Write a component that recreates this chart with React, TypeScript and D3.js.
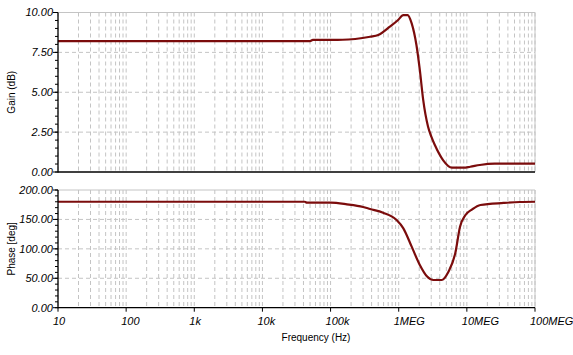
import React from "react";
import * as d3 from "d3";

const gainFreq = [10, 50000, 55000, 150000, 230000, 380000, 500000, 740000, 980000, 1170000, 1350000, 1550000, 1820000, 2040000, 2290000, 2690000, 3020000, 3390000, 4470000, 6030000, 8900000, 11200000, 15500000, 25700000, 100000000];
const gainDb = [8.21, 8.21, 8.28, 8.29, 8.34, 8.48, 8.59, 9.11, 9.53, 9.84, 9.84, 9.32, 7.96, 6.4, 4.5, 2.85, 2.2, 1.69, 0.75, 0.27, 0.27, 0.33, 0.44, 0.52, 0.52];

const phaseFreq = [10, 42000, 45000, 100000, 174000, 300000, 380000, 590000, 930000, 1170000, 1550000, 2040000, 2570000, 3240000, 4270000, 5370000, 6760000, 7940000, 9550000, 12000000, 15800000, 34700000, 60000000, 100000000];
const phaseDeg = [180, 180, 178.4, 178.4, 175.6, 171.1, 167.7, 161.4, 149, 134.9, 103.7, 72.6, 53.9, 47.1, 47.1, 61.2, 92.4, 137.6, 157.5, 167.2, 174.5, 178, 179.6, 180];

const xTickValues = [10, 100, 1000, 10000, 100000, 1000000, 10000000, 100000000];
const xTickLabels = ["10", "100", "1k", "10k", "100k", "1MEG", "10MEG", "100MEG"];
const gainTicks = [0, 2.5, 5, 7.5, 10];
const phaseTicks = [0, 50, 100, 150, 200];

const L = 58, R = 535;
const font = "Liberation Sans, Arial, sans-serif";
const lineColor = "#7b0c0c";
const gridColor = "#c4c4c4";

const x = d3.scaleLog().domain([10, 1e8]).range([L, R]);

function minorFreqs(): number[] {
  const out: number[] = [];
  for (let e = 1; e < 8; e++) for (let m = 2; m <= 9; m++) out.push(m * Math.pow(10, e));
  return out;
}

function Panel(props: {
  top: number; bottom: number; domain: [number, number]; ticks: number[]; minorStep: number;
  freq: number[]; vals: number[]; title: string; showX: boolean;
}) {
  const { top, bottom, domain, ticks, minorStep, freq, vals, title, showX } = props;
  const y = d3.scaleLinear().domain(domain).range([bottom, top]);
  const line = d3.line<number>().x((_, i) => x(freq[i])).y((v) => y(v)).curve(d3.curveMonotoneX);
  const minors: number[] = [];
  for (let v = domain[0]; v <= domain[1] + 1e-9; v += minorStep) minors.push(v);
  const allX = [...xTickValues, ...minorFreqs()];
  return (
    <g>
      {allX.map((f, i) => (
        <line key={"vx" + i} x1={x(f)} x2={x(f)} y1={top} y2={bottom} stroke={gridColor} strokeDasharray="4,3" strokeWidth={1} />
      ))}
      {ticks.slice(1, -1).map((t, i) => (
        <line key={"hy" + i} x1={L} x2={R} y1={y(t)} y2={y(t)} stroke={gridColor} strokeDasharray="4,3" strokeWidth={1} />
      ))}
      <line x1={L} x2={R} y1={top} y2={top} stroke={gridColor} />
      <line x1={R} x2={R} y1={top} y2={bottom} stroke={gridColor} />
      <path d={line(vals) || ""} fill="none" stroke={lineColor} strokeWidth={2.2} strokeLinejoin="round" />
      <line x1={L} x2={L} y1={top} y2={bottom + 0.5} stroke="#000" strokeWidth={1.3} />
      <line x1={L} x2={R} y1={bottom} y2={bottom} stroke="#000" strokeWidth={1.3} />
      {minors.map((t, i) => (
        <line key={"my" + i} x1={L - 3} x2={L} y1={y(t)} y2={y(t)} stroke="#000" />
      ))}
      {ticks.map((t, i) => (
        <g key={"ty" + i}>
          <line x1={L - 5} x2={L} y1={y(t)} y2={y(t)} stroke="#000" />
          <text x={L - 5} y={y(t)} dy="0.35em" textAnchor="end" fontSize={11} fontStyle="italic" fontFamily={font} fill="#000">
            {t.toFixed(2)}
          </text>
        </g>
      ))}
      {showX && xTickValues.map((f, i) => (
        <g key={"tx" + i}>
          <line x1={x(f)} x2={x(f)} y1={bottom} y2={bottom + 4} stroke="#000" />
          <text x={x(f) - 5} y={325} textAnchor="start" fontSize={11} fontStyle="italic" fontFamily={font} fill="#000">
            {xTickLabels[i]}
          </text>
        </g>
      ))}
      <text transform={`translate(15,${(top + bottom) / 2}) rotate(-90)`} textAnchor="middle" fontSize={10} fontFamily={font} fill="#000">
        {title}
      </text>
    </g>
  );
}

export default function App() {
  return (
    <svg width={573} height={355} style={{ position: "absolute", left: 0, top: 0, background: "#fff" }}>
      <rect width={573} height={355} fill="#fff" />
      <Panel top={12.5} bottom={172} domain={[0, 10]} ticks={gainTicks} minorStep={0.5} freq={gainFreq} vals={gainDb} title="Gain (dB)" showX={false} />
      <Panel top={190} bottom={307.7} domain={[0, 200]} ticks={phaseTicks} minorStep={10} freq={phaseFreq} vals={phaseDeg} title="Phase [deg]" showX={true} />
      <text x={316} y={341} textAnchor="middle" fontSize={10} fontFamily={font} fill="#000">Frequency (Hz)</text>
    </svg>
  );
}
